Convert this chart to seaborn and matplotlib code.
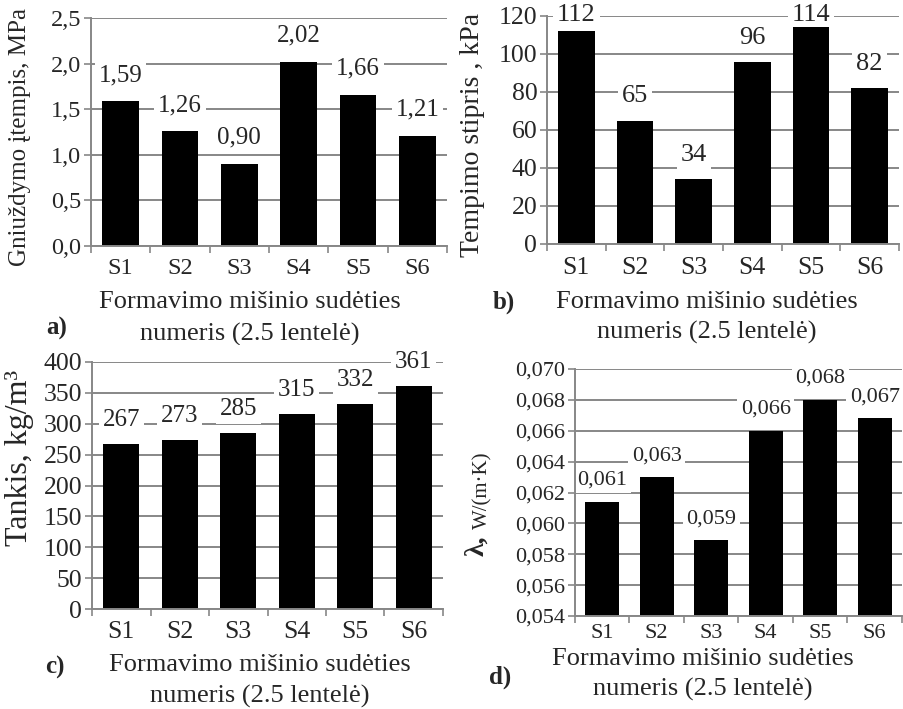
import matplotlib
matplotlib.use("Agg")
import matplotlib.pyplot as plt
import matplotlib.ticker as mticker
from matplotlib.transforms import Bbox
import seaborn as sns
import pandas as pd

# Mix numbers S1..S6
mixes = ["S1", "S2", "S3", "S4", "S5", "S6"]

# a) compressive stress, MPa
compressive = [1.59, 1.26, 0.90, 2.02, 1.66, 1.21]
# b) tensile strength, kPa
tensile = [112, 65, 34, 96, 114, 82]
# c) density, kg/m3
density = [267, 273, 285, 315, 332, 361]
# d) thermal conductivity, W/(m·K)
conductivity = [0.0614, 0.0630, 0.0589, 0.0660, 0.0680, 0.0668]

xlabel_1 = "Formavimo mišinio sudėties"
xlabel_2 = "numeris (2.5 lentelė)"

sns.set_style("white")
plt.rcParams["font.family"] = ["Liberation Serif", "DejaVu Serif"]

W, H = 904, 709
fig = plt.figure(figsize=(W / 100, H / 100), dpi=100)

GRID = "#878787"
XLAB_FS = 19
value_labels = []


def fx(px):
    return px / W


def fy(py):
    return 1 - py / H


def make_axes(left, top, right, bottom):
    return fig.add_axes([fx(left), fy(bottom), fx(right - left), (bottom - top) / H])


def style_axes(ax, ymin, ymax, step, fmt, tick_fs, xpad=9):
    ax.set_ylim(ymin, ymax)
    ax.set_xlim(-0.5, len(mixes) - 0.5)
    ax.yaxis.set_major_locator(mticker.MultipleLocator(step))
    ax.yaxis.set_major_formatter(mticker.FuncFormatter(lambda v, p: fmt.format(v).replace(".", ",")))
    ax.yaxis.grid(True, color=GRID, lw=1.4, zorder=0.5)
    ax.set_axisbelow(True)
    for s in ("top", "right"):
        ax.spines[s].set_visible(False)
    for s in ("left", "bottom"):
        ax.spines[s].set_color(GRID)
        ax.spines[s].set_linewidth(1.4)
    ax.tick_params(axis="y", which="major", length=5, width=1.2, color=GRID,
                   labelsize=tick_fs, pad=2, left=True)
    ax.tick_params(axis="x", which="major", length=0, labelsize=tick_fs, pad=xpad, bottom=True)
    ax.set_xticks([i - 0.5 for i in range(len(mixes) + 1)], minor=True)
    ax.tick_params(axis="x", which="minor", length=5, width=1.2, color=GRID, bottom=True)
    ax.set_xlabel("")
    ax.set_ylabel("")


def bars(ax, values, fmt, offset, val_fs):
    df = pd.DataFrame({"mix": mixes, "value": values})
    sns.barplot(data=df, x="mix", y="value", color="black", width=0.62,
                saturation=1, ax=ax, edgecolor="black", linewidth=0, zorder=2)
    for i, v in enumerate(values):
        # white label box hides the gridline behind it, but stays under the bars
        t = ax.annotate(fmt.format(v).replace(".", ","), (i, v), xytext=(0, offset),
                        textcoords="offset pixels", ha="center", va="bottom",
                        fontsize=val_fs, zorder=1,
                        bbox=dict(boxstyle="square,pad=0.15", fc="white", ec="none"))
        value_labels.append(t)


def xlabels(cx, y1, y2, clip_bottom=None):
    for txt, y in ((xlabel_1, y1), (xlabel_2, y2)):
        t = fig.text(fx(cx), fy(y), txt, ha="center", va="center", fontsize=XLAB_FS)
        if clip_bottom is not None:
            bb = Bbox.from_extents(0, (H - clip_bottom), W, H)
            t.set_clip_box(bb)
            t.set_clip_on(True)


# ---- a) ----
ax_a = make_axes(91, 18, 447, 246)
bars(ax_a, compressive, "{:.2f}", 15, 18)
style_axes(ax_a, 0, 2.5, 0.5, "{:.1f}", 17.5)
fig.text(fx(20), fy(137), "Gniuždymo įtempis, MPa", rotation=90, ha="center", va="center", fontsize=18)
xlabels(250, 302, 334, clip_bottom=345)
fig.text(fx(57), fy(328), "a)", ha="center", va="center", fontsize=18, fontweight="bold")

# ---- b) ----
ax_b = make_axes(547, 16, 899, 244)
bars(ax_b, tensile, "{:.0f}", 13, 19)
style_axes(ax_b, 0, 120, 20, "{:.0f}", 18.5)
fig.text(fx(473), fy(135), "Tempimo stipris , kPa", rotation=90, ha="center", va="center", fontsize=20)
xlabels(707, 302, 332, clip_bottom=345)
fig.text(fx(504), fy(302), "b)", ha="center", va="center", fontsize=18, fontweight="bold")

# ---- c) ----
ax_c = make_axes(92, 362, 443, 609)
bars(ax_c, density, "{:.0f}", 13, 18)
style_axes(ax_c, 0, 400, 50, "{:.0f}", 18.5)
fig.text(fx(20), fy(458), "Tankis, kg/m³", rotation=90, ha="center", va="center", fontsize=23)
xlabels(260, 665, 696)
fig.text(fx(55), fy(667), "c)", ha="center", va="center", fontsize=18, fontweight="bold")

# ---- d) ----
ax_d = make_axes(575, 369, 902, 616)
bars(ax_d, conductivity, "{:.3f}", 12, 16)
style_axes(ax_d, 0.054, 0.070, 0.002, "{:.3f}", 16, xpad=6)
fig.text(fx(477), fy(546), "λ,", rotation=90, ha="center", va="center", fontsize=20, fontweight="bold")
fig.text(fx(483), fy(490), "W/(m·K)", rotation=90, ha="center", va="center", fontsize=15)
xlabels(703, 659, 689)
fig.text(fx(500), fy(677), "d)", ha="center", va="center", fontsize=18, fontweight="bold")

# keep value labels that would run past the top edge inside the figure
fig.canvas.draw()
renderer = fig.canvas.get_renderer()
for t in value_labels:
    bb = t.get_window_extent(renderer)
    overflow = bb.y1 - (H - 4)
    if overflow > 0:
        ox, oy = t.xyann
        t.xyann = (ox, oy - overflow)

fig.savefig("out.png", dpi=100, facecolor="white")
